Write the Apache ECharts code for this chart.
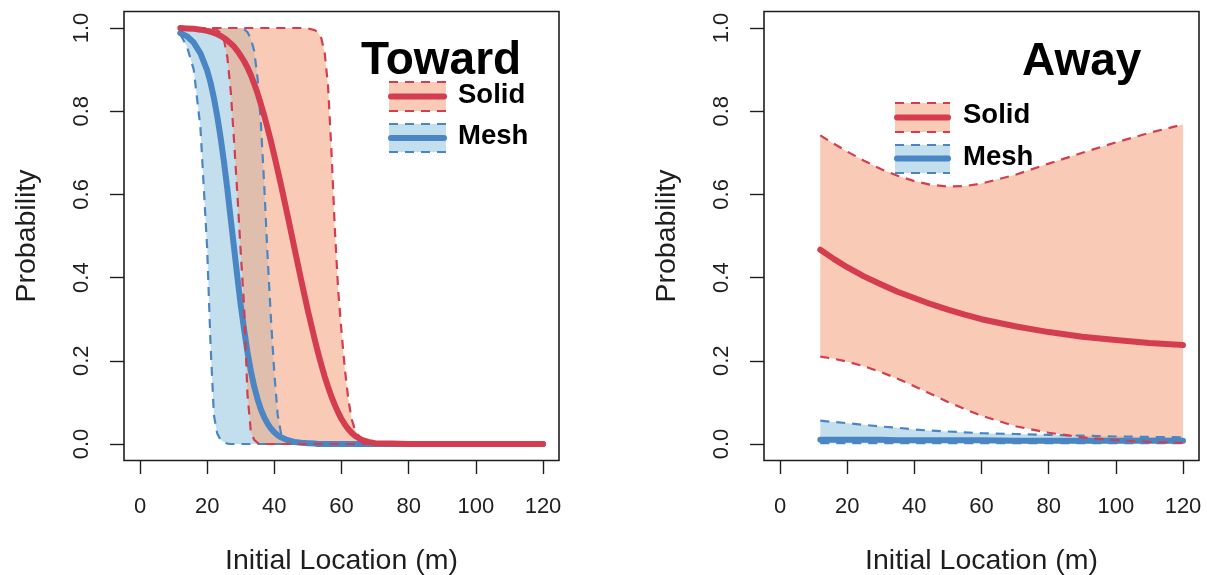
<!DOCTYPE html>
<html><head><meta charset="utf-8">
<script src="https://cdn.jsdelivr.net/npm/echarts@6/dist/echarts.min.js"></script>
<style>html,body{margin:0;padding:0;background:#fff}#c{width:1207px;height:575px}</style>
</head><body><div id="c"></div>
<script>
// ---- tick labels / text ----
const xTicks = [0, 20, 40, 60, 80, 100, 120];
const yTickLabels = ['0.0', '0.2', '0.4', '0.6', '0.8', '1.0'];
const panelTitles = ['Toward', 'Away'];
const groupNames = ['Solid', 'Mesh'];
const xTitle = 'Initial Location (m)';
const yTitle = 'Probability';

// ---- Toward panel ----
const towardX = [12,14,16,18,20,21,22,23,24,25,26,27,28,29,30,31,32,33,34,35,36,37,38,39,40,41,42,44,46,48,50,52,53,54,55,56,57,58,59,60,61,62,63,64,66,68,70,75,80,90,100,110,120];
const towardSolidMean = [1.0,0.999,0.998,0.996,0.993,0.991,0.988,0.985,0.981,0.976,0.970,0.963,0.955,0.945,0.933,0.920,0.905,0.887,0.866,0.843,0.817,0.789,0.759,0.727,0.693,0.658,0.622,0.547,0.470,0.394,0.320,0.252,0.220,0.190,0.162,0.137,0.114,0.094,0.076,0.060,0.047,0.036,0.027,0.020,0.010,0.005,0.002,0.001,0,0,0,0,0];
const towardSolidUpper = [1,1,1,1,1,1,1,1,1,1,1,1,1,1,1,1,1,1,1,1,1,1,1,1,1,1,1,1,1,1,0.999,0.995,0.990,0.975,0.940,0.860,0.705,0.520,0.370,0.270,0.180,0.110,0.060,0.035,0.008,0.002,0,0,0,0,0,0,0];
const towardSolidLower = [1,1,1,1,1,0.999,0.998,0.995,0.988,0.972,0.930,0.850,0.730,0.600,0.460,0.330,0.120,0.030,0.010,0.003,0.001,0,0,0,0,0,0,0,0,0,0,0,0,0,0,0,0,0,0,0,0,0,0,0,0,0,0,0,0,0,0,0,0];
const towardMeshMean = [0.988,0.980,0.965,0.939,0.898,0.869,0.832,0.788,0.737,0.678,0.613,0.542,0.472,0.401,0.334,0.275,0.221,0.176,0.138,0.108,0.083,0.064,0.049,0.037,0.028,0.021,0.016,0.009,0.005,0.003,0.002,0.001,0,0,0,0,0,0,0,0,0,0,0,0,0,0,0,0,0,0,0,0,0];
const towardMeshUpper = [1,1,1,1,1,1,1,1,1,1,1,1,1,1,0.999,0.997,0.990,0.975,0.945,0.880,0.770,0.620,0.450,0.300,0.170,0.070,0.025,0.003,0.001,0,0,0,0,0,0,0,0,0,0,0,0,0,0,0,0,0,0,0,0,0,0,0,0];
const towardMeshLower = [0.985,0.955,0.900,0.760,0.470,0.240,0.070,0.025,0.010,0.004,0.001,0,0,0,0,0,0,0,0,0,0,0,0,0,0,0,0,0,0,0,0,0,0,0,0,0,0,0,0,0,0,0,0,0,0,0,0,0,0,0,0,0,0];

// ---- Away panel ----
const awayX = [12,16,20,25,30,35,40,45,50,55,60,70,80,90,100,110,120];
const awaySolidMean = [0.467,0.445,0.425,0.403,0.384,0.366,0.351,0.336,0.323,0.311,0.300,0.283,0.269,0.258,0.250,0.243,0.238];
const awaySolidUpper = [0.742,0.722,0.703,0.681,0.661,0.645,0.632,0.623,0.619,0.620,0.626,0.647,0.674,0.700,0.725,0.748,0.768];
const awaySolidLower = [0.210,0.205,0.198,0.187,0.173,0.157,0.139,0.120,0.101,0.084,0.068,0.043,0.027,0.016,0.009,0.005,0.003];
const awayMeshMean = [0.010,0.010,0.010,0.010,0.010,0.009,0.009,0.009,0.009,0.009,0.009,0.008,0.008,0.008,0.008,0.008,0.008];
const awayMeshUpper = [0.056,0.053,0.050,0.046,0.042,0.039,0.035,0.032,0.030,0.028,0.026,0.024,0.022,0.020,0.018,0.017,0.016];
const awayMeshLower = [0.002,0.002,0.002,0.002,0.002,0.002,0.002,0.002,0.002,0.002,0.002,0.002,0.002,0.002,0.002,0.002,0.002];

// ---- styles ----
const FONT = "'Liberation Sans', Arial, Helvetica, sans-serif";
const RED = '#d43d4f', BLUE = '#4a86c3';
const RED_FILL = 'rgba(244,165,130,0.58)', BLUE_FILL = 'rgba(146,197,222,0.55)';
const AX = '#1e1e1e';

const chart = echarts.init(document.getElementById('c'), null, {renderer: 'canvas'});

function band(gi, xs, lo, hi, fill, z) {
  return {
    type: 'custom', coordinateSystem: 'cartesian2d', xAxisIndex: gi, yAxisIndex: gi,
    data: [[xs[0], lo[0]]], silent: true, z: z, clip: false,
    renderItem: function (params, api) {
      const pts = [];
      for (let i = 0; i < xs.length; i++) pts.push(api.coord([xs[i], hi[i]]));
      for (let i = xs.length - 1; i >= 0; i--) pts.push(api.coord([xs[i], lo[i]]));
      return {type: 'polygon', shape: {points: pts}, style: {fill: fill, stroke: null}};
    }
  };
}
function line(gi, xs, ys, color, width, dashed, z) {
  return {
    type: 'line', xAxisIndex: gi, yAxisIndex: gi, data: xs.map((x, i) => [x, ys[i]]),
    symbol: 'none', showSymbol: false, smooth: false, silent: true, clip: false, z: z,
    lineStyle: {color: color, width: width, type: dashed ? [9, 7] : 'solid', cap: dashed ? 'butt' : 'round', join: 'round'}
  };
}
function panelSeries(gi, xs, sM, sU, sL, mM, mU, mL) {
  return [
    band(gi, xs, mL, mU, BLUE_FILL, 1),
    band(gi, xs, sL, sU, RED_FILL, 2),
    line(gi, xs, mM, BLUE, 6, false, 3),
    line(gi, xs, mU, BLUE, 2.2, true, 4),
    line(gi, xs, mL, BLUE, 2.2, true, 4),
    line(gi, xs, sU, RED, 2.2, true, 5),
    line(gi, xs, sL, RED, 2.2, true, 5),
    line(gi, xs, sM, RED, 6, false, 6)
  ];
}

function dataX(gi) {
  return {
    gridIndex: gi, type: 'value', min: xTicks[0], max: xTicks[xTicks.length - 1], interval: 20,
    position: 'bottom', offset: 17,
    axisLine: {show: false, onZero: false}, splitLine: {show: false},
    axisTick: {show: true, inside: false, length: 13, lineStyle: {color: AX, width: 1.4}},
    axisLabel: {margin: 35, fontSize: 22, color: AX, fontFamily: FONT},
    name: xTitle, nameLocation: 'middle', nameGap: 86,
    nameTextStyle: {fontSize: 28.5, color: AX, fontFamily: FONT}
  };
}
function dataY(gi) {
  return {
    gridIndex: gi, type: 'value', min: 0, max: 1, interval: 0.2,
    position: 'left', offset: 16,
    axisLine: {show: false, onZero: false}, splitLine: {show: false},
    axisTick: {show: true, inside: false, length: 14, lineStyle: {color: AX, width: 1.4}},
    axisLabel: {margin: 31, rotate: 90, fontSize: 22, color: AX, fontFamily: FONT,
      formatter: v => yTickLabels[Math.round(v / 0.2)]},
    name: yTitle, nameLocation: 'middle', nameGap: 82, nameRotate: 90,
    nameTextStyle: {fontSize: 28.5, color: AX, fontFamily: FONT}
  };
}
function hiddenAxis(gi) {
  return {gridIndex: gi, type: 'value', show: false, min: 0, max: 1};
}

function legendGroup(x0, x1, rowsY, textX, textYs, title, titleX, titleY) {
  const els = [];
  const fills = [RED_FILL, BLUE_FILL], cols = [RED, BLUE];
  rowsY.forEach((r, k) => {
    els.push({type: 'rect', shape: {x: x0, y: r[0], width: x1 - x0, height: r[2] - r[0]}, style: {fill: fills[k]}, silent: true, z: 10});
    els.push({type: 'line', shape: {x1: x0, y1: r[0], x2: x1, y2: r[0]}, style: {stroke: cols[k], lineWidth: 2.2, lineDash: [9, 7]}, silent: true, z: 11});
    els.push({type: 'line', shape: {x1: x0, y1: r[2], x2: x1, y2: r[2]}, style: {stroke: cols[k], lineWidth: 2.2, lineDash: [9, 7]}, silent: true, z: 11});
    els.push({type: 'line', shape: {x1: x0 + 2, y1: r[1], x2: x1 - 2, y2: r[1]}, style: {stroke: cols[k], lineWidth: 6, lineCap: 'round'}, silent: true, z: 12});
    els.push({type: 'text', style: {text: groupNames[k], x: textX, y: textYs[k], fill: '#000', font: 'bold 27.5px ' + FONT, textAlign: 'left', textVerticalAlign: 'middle'}, silent: true, z: 12});
  });
  els.push({type: 'text', style: {text: title, x: titleX, y: titleY, fill: '#000', font: 'bold 46px ' + FONT, textAlign: 'left', textVerticalAlign: 'middle'}, silent: true, z: 12});
  return els;
}

const gridBase = {containLabel: false, outerBoundsMode: 'none'};
const option = {
  animation: false,
  backgroundColor: '#fff',
  grid: [
    Object.assign({left: 140, top: 28, width: 403, height: 416}, gridBase),
    Object.assign({left: 780, top: 28, width: 403, height: 416}, gridBase),
    Object.assign({left: 124, top: 11.5, width: 435, height: 449, show: true, borderColor: AX, borderWidth: 1.6, backgroundColor: 'transparent', z: 20}, gridBase),
    Object.assign({left: 764, top: 11.5, width: 435, height: 449, show: true, borderColor: AX, borderWidth: 1.6, backgroundColor: 'transparent', z: 20}, gridBase)
  ],
  xAxis: [dataX(0), dataX(1), hiddenAxis(2), hiddenAxis(3)],
  yAxis: [dataY(0), dataY(1), hiddenAxis(2), hiddenAxis(3)],
  series: [].concat(
    panelSeries(0, towardX, towardSolidMean, towardSolidUpper, towardSolidLower, towardMeshMean, towardMeshUpper, towardMeshLower),
    panelSeries(1, awayX, awaySolidMean, awaySolidUpper, awaySolidLower, awayMeshMean, awayMeshUpper, awayMeshLower)
  ),
  graphic: [].concat(
    legendGroup(389, 446, [[82, 96.5, 111], [124, 138, 152]], 458, [95, 136], panelTitles[0], 361, 61),
    legendGroup(895, 950, [[103, 117.5, 132], [145, 158.5, 173]], 963, [115, 157], panelTitles[1], 1022, 62)
  )
};
chart.setOption(option);
</script>
</body></html>
